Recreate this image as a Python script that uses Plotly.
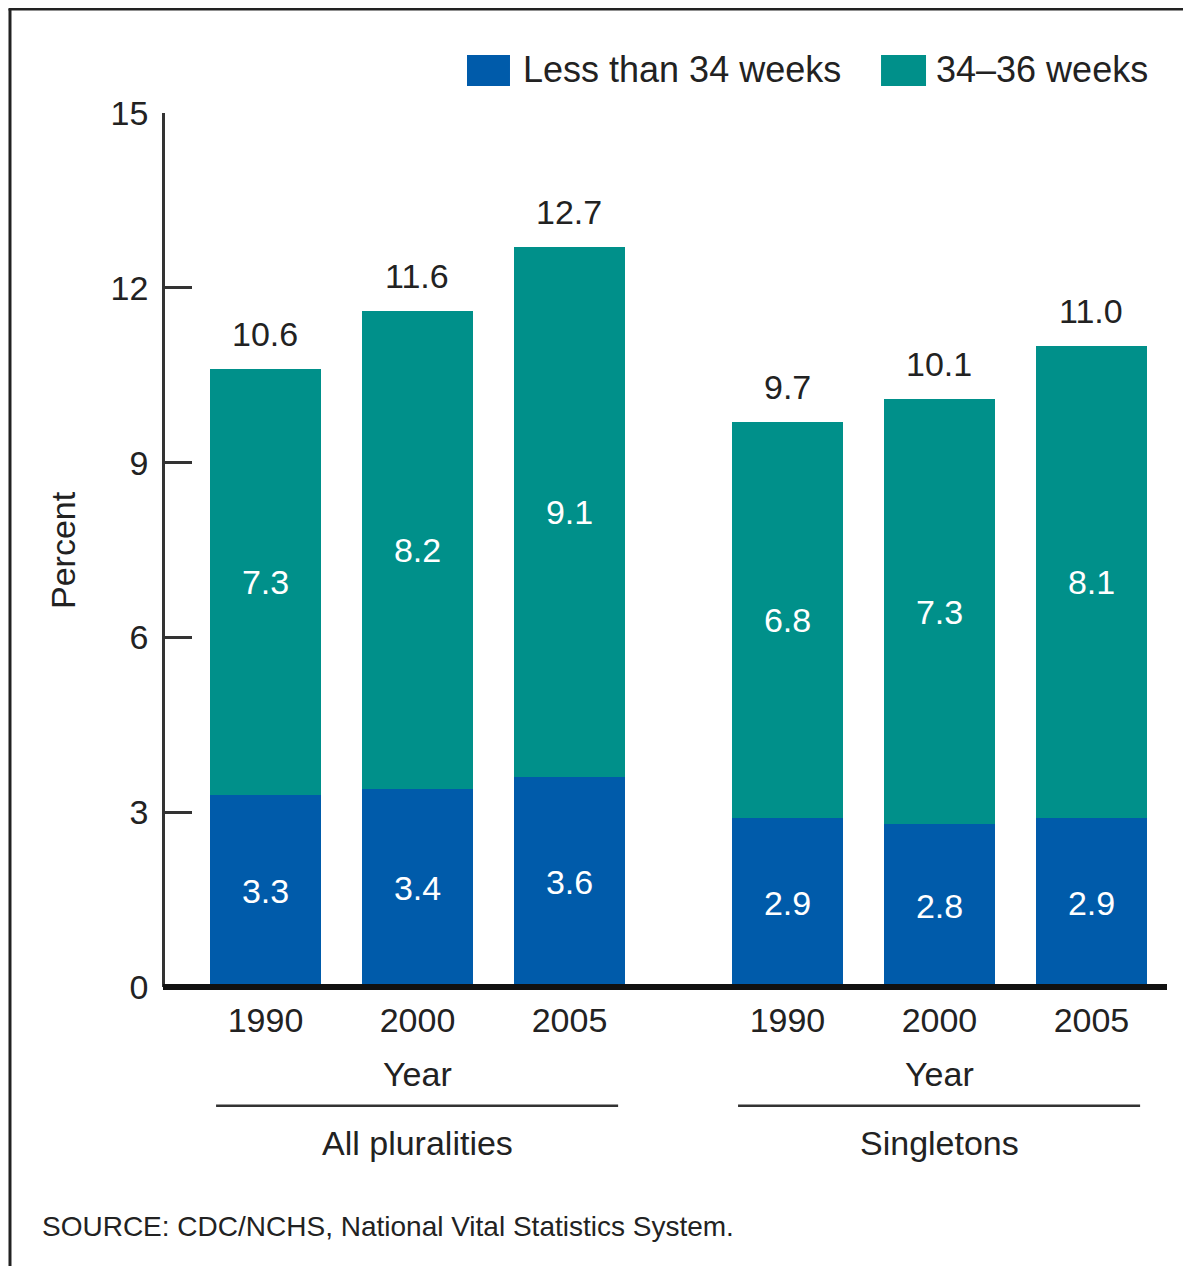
import plotly.graph_objects as go

# ---- data ----
groups = ["All pluralities", "Singletons"]
years = ["1990", "2000", "2005", "1990", "2000", "2005"]
group_of_bar = [0, 0, 0, 1, 1, 1]
less_than_34 = [3.3, 3.4, 3.6, 2.9, 2.8, 2.9]
weeks_34_36 = [7.3, 8.2, 9.1, 6.8, 7.3, 8.1]
totals = [10.6, 11.6, 12.7, 9.7, 10.1, 11.0]
series_names = ["Less than 34 weeks", "34\u201336 weeks"]
y_ticks = [0, 3, 6, 9, 12, 15]
source_text = "SOURCE: CDC/NCHS, National Vital Statistics System."

# ---- style ----
BLUE = "#005BAA"
TEAL = "#00908A"
TXT = "#222222"
FONT = "Liberation Sans"
FS = 34
GROUP_GAP = 0.434  # extra space between the two groups (in bar-slot units)
X_RANGE = [-0.661, 5.931]
Y_RANGE = [0, 15]

xpos = [i + GROUP_GAP * g for i, g in enumerate(group_of_bar)]


def xpaper(x):
    return (x - X_RANGE[0]) / (X_RANGE[1] - X_RANGE[0])


def ypaper(y):
    return (y - Y_RANGE[0]) / (Y_RANGE[1] - Y_RANGE[0])


fig = go.Figure()
fig.add_trace(go.Bar(
    x=xpos, y=less_than_34, name=series_names[0], marker_color=BLUE,
    marker_line_width=0, width=0.73,
    text=[f"{v:.1f}" for v in less_than_34], textposition="inside",
    insidetextanchor="middle", textangle=0,
    textfont=dict(color="white", size=FS, family=FONT),
))
fig.add_trace(go.Bar(
    x=xpos, y=weeks_34_36, name=series_names[1], marker_color=TEAL,
    marker_line_width=0, width=0.73,
    text=[f"{v:.1f}" for v in weeks_34_36], textposition="inside",
    insidetextanchor="middle", textangle=0,
    textfont=dict(color="white", size=FS, family=FONT),
))

annotations = []
# totals above bars
for x, t in zip(xpos, totals):
    annotations.append(dict(x=x, y=t, xref="x", yref="y", text=f"{t:.1f}",
                            showarrow=False, yanchor="bottom", yshift=14,
                            font=dict(size=FS, color=TXT, family=FONT)))

shapes = []
# group labels, "Year" labels and separator lines
for g, name in enumerate(groups):
    xs = [x for x, gg in zip(xpos, group_of_bar) if gg == g]
    cx = (xs[0] + xs[-1]) / 2
    annotations.append(dict(x=xpaper(cx), y=ypaper(-1.5), xref="paper", yref="paper",
                            text="Year", showarrow=False, xanchor="center",
                            yanchor="middle",
                            font=dict(size=FS, color=TXT, family=FONT)))
    annotations.append(dict(x=xpaper(cx), y=ypaper(-2.68), xref="paper", yref="paper",
                            text=name, showarrow=False, xanchor="center",
                            yanchor="middle",
                            font=dict(size=FS, color=TXT, family=FONT)))
    shapes.append(dict(type="line", xref="paper", yref="paper",
                       x0=xpaper(xs[0] - 0.325), x1=xpaper(xs[-1] + 0.32),
                       y0=ypaper(-2.04), y1=ypaper(-2.04),
                       line=dict(color="#333333", width=2.5)))

# thick baseline
shapes.append(dict(type="line", xref="paper", yref="paper", x0=-0.002, x1=1.0,
                   y0=ypaper(0), y1=ypaper(0), line=dict(color="#111111", width=6)))

# y-axis title
annotations.append(dict(x=-0.1018, y=0.5, xref="paper", yref="paper",
                        text="Percent", textangle=-90, showarrow=False,
                        xanchor="center", yanchor="middle",
                        font=dict(size=FS, color=TXT, family=FONT)))

# source
annotations.append(dict(x=-0.1248, y=-0.2735, xref="paper", yref="paper",
                        text=source_text, showarrow=False, xanchor="left",
                        yanchor="middle",
                        font=dict(size=28, color=TXT, family=FONT)))

# legend (manual)
legend_items = [
    (0.3014, 0.3443, 0.3553, BLUE, series_names[0]),
    (0.7146, 0.7595, 0.7675, TEAL, series_names[1]),
]
for bx0, bx1, tx, col, lab in legend_items:
    shapes.append(dict(type="rect", xref="paper", yref="paper",
                       x0=bx0, x1=bx1, y0=1.0309, y1=1.0664,
                       fillcolor=col, line=dict(width=0)))
    annotations.append(dict(x=tx, y=1.0492, xref="paper", yref="paper",
                            text=lab, showarrow=False, xanchor="left",
                            yanchor="middle",
                            font=dict(size=36, color=TXT, family=FONT)))

# outer frame (left and top edges)
shapes.append(dict(type="line", xref="paper", yref="paper",
                   x0=-0.1547, x1=-0.1547, y0=1.119, y1=-0.32,
                   line=dict(color="#222222", width=3)))
shapes.append(dict(type="line", xref="paper", yref="paper",
                   x0=-0.1562, x1=1.03, y0=1.119, y1=1.119,
                   line=dict(color="#222222", width=3)))

fig.update_layout(
    width=1183, height=1258,
    margin=dict(l=157, r=24, t=105, b=279, autoexpand=False),
    barmode="stack", bargap=0,
    showlegend=False,
    plot_bgcolor="white", paper_bgcolor="white",
    font=dict(family=FONT, size=FS, color=TXT),
    annotations=annotations, shapes=shapes,
    uniformtext=dict(minsize=FS, mode="show"),
)
fig.update_xaxes(range=X_RANGE, tickvals=xpos, ticktext=years,
                 showgrid=False, zeroline=False, showline=False, ticks="",
                 ticklabelstandoff=10,
                 tickfont=dict(size=FS, color=TXT, family=FONT))
fig.update_yaxes(range=Y_RANGE, tickvals=y_ticks, showgrid=False,
                 zeroline=False, showline=True, linecolor="#333333",
                 linewidth=2.5, ticks="inside", ticklen=27, tickwidth=2.5,
                 tickcolor="#333333", ticklabelstandoff=7,
                 tickfont=dict(size=FS, color=TXT, family=FONT))

fig.write_html("out.html")
